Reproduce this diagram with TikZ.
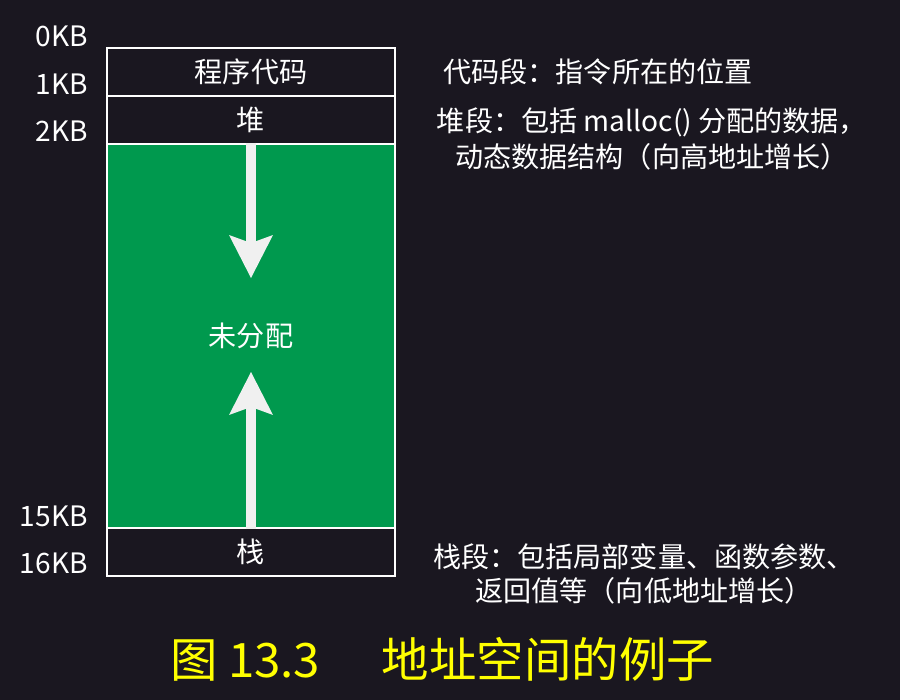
\documentclass[tikz,border=0pt]{standalone}
\usepackage{fontspec}
\setmainfont{Noto Sans CJK SC}
\usetikzlibrary{arrows.meta}
\definecolor{bgdark}{RGB}{26,23,32}
\definecolor{freegreen}{RGB}{0,153,78}
\definecolor{arrowwhite}{RGB}{240,240,240}
\definecolor{capyellow}{RGB}{255,255,0}

\begin{document}
\begin{tikzpicture}[x=0.02cm,y=-0.02cm,
  seg/.style={draw=white,line width=1.2pt,minimum width=5.76cm,minimum height=0.96cm,
    inner sep=0pt,text=white,font=\fontsize{16}{19}\selectfont},
  kb/.style={anchor=east,inner sep=0pt,text=white,font=\fontsize{16}{19}\selectfont},
  note/.style={text=white,align=center,inner sep=0pt},
  growarrow/.style={draw=arrowwhite,line width=0.2cm,
    -{Stealth[width=0.88cm,length=0.86cm,inset=0.16cm,line width=0pt]}}]
\fill[bgdark] (0,0) rectangle (900,700);
\useasboundingbox (0,0) rectangle (900,700);
% memory segments
\node[seg] (code) at (251,72) {程序代码};
\node[seg] (heap) at (251,120) {堆};
\node[seg,fill=freegreen,minimum height=7.68cm] (free) at (251,336) {未分配};
\node[seg] (stack) at (251,552) {栈};
% addresses
\foreach \i/\y/\t in {0/36/0KB,1/84/1KB,2/131/2KB,15/516/15KB,16/563/16KB}
  \node[kb] (kb\i) at (88,\y) {\t};
% growth arrows
\coordinate (downtip) at (251,278);
\coordinate (uptip) at (251,372);
\draw[growarrow] (free.north) -- (downtip);
\draw[growarrow] (free.south) -- (uptip);
% descriptions
\node[note,anchor=west,font=\fontsize{16}{21}\selectfont] (codenote) at (443,72) {代码段：指令所在的位置};
\node[note,font=\fontsize{16}{21}\selectfont] (heapnote) at (652,139)
  {堆段：包括 malloc() 分配的数据，\\动态数据结构（向高地址增长）};
\node[note,font=\fontsize{16}{19.3}\selectfont] (stacknote) at (644,574)
  {栈段：包括局部变量、函数参数、\\返回值等（向低地址增长）};
\node[text=capyellow,font=\fontsize{27}{30}\selectfont] (caption) at (442,659)
  {图 13.3\hspace{1.3em}地址空间的例子};
\end{tikzpicture}
\end{document}
